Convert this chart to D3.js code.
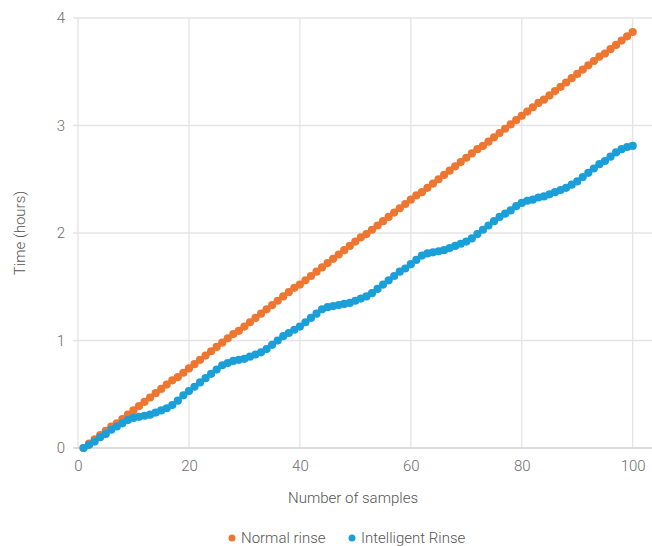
<!DOCTYPE html>
<html><head><meta charset="utf-8">
<script src="https://cdn.jsdelivr.net/npm/d3@7"></script>
<style>body{margin:0;background:#fff;}svg{display:block;font-family:Roboto,"Noto Sans",sans-serif;font-weight:300;}</style>
</head><body>
<svg id="c" width="652" height="546"></svg>
<script>
const seriesNames = ["Normal rinse", "Intelligent Rinse"];
const normalRinse = [0,0.04,0.08,0.12,0.16,0.20,0.23,0.27,0.31,0.35,0.39,0.43,0.47,0.51,0.55,0.59,0.63,0.66,0.70,0.74,0.78,0.82,0.86,0.90,0.94,0.98,1.02,1.06,1.09,1.13,1.17,1.21,1.25,1.29,1.33,1.37,1.41,1.45,1.49,1.52,1.56,1.60,1.64,1.68,1.72,1.76,1.80,1.84,1.88,1.92,1.96,1.99,2.03,2.07,2.11,2.15,2.19,2.23,2.27,2.31,2.35,2.38,2.42,2.46,2.50,2.54,2.58,2.62,2.66,2.70,2.74,2.78,2.81,2.85,2.89,2.93,2.97,3.01,3.05,3.09,3.13,3.17,3.21,3.24,3.28,3.32,3.36,3.40,3.44,3.48,3.52,3.56,3.60,3.64,3.67,3.71,3.75,3.79,3.83,3.87];
const intelligentRinse = [0,0.03,0.06,0.10,0.13,0.17,0.20,0.23,0.26,0.28,0.29,0.30,0.31,0.33,0.35,0.37,0.40,0.44,0.49,0.53,0.57,0.61,0.65,0.69,0.73,0.77,0.79,0.81,0.82,0.83,0.85,0.87,0.89,0.92,0.96,1.00,1.04,1.07,1.10,1.13,1.17,1.21,1.25,1.29,1.31,1.32,1.33,1.34,1.35,1.37,1.39,1.41,1.44,1.48,1.52,1.56,1.60,1.64,1.67,1.71,1.75,1.79,1.81,1.82,1.83,1.84,1.86,1.88,1.90,1.92,1.95,1.99,2.03,2.07,2.11,2.15,2.18,2.21,2.25,2.28,2.30,2.31,2.33,2.34,2.36,2.38,2.40,2.42,2.45,2.48,2.52,2.56,2.60,2.64,2.67,2.71,2.75,2.78,2.80,2.81];
const xTicks = [0,20,40,60,80,100];
const yTicks = [0,1,2,3,4];
const colors = ["#ED7631", "#1A9FD8"];

const svg = d3.select("#c");
const x = d3.scaleLinear().domain([0,100]).range([78,632.7]);
const y = d3.scaleLinear().domain([0,4]).range([448,18]);
const plotRight = 652;

// gridlines
svg.append("g").selectAll("line").data(xTicks).join("line")
  .attr("x1",d=>x(d)).attr("x2",d=>x(d)).attr("y1",y(4)).attr("y2",y(0))
  .attr("stroke","#e4e4e4").attr("stroke-width",1.3);
svg.append("g").selectAll("line").data(yTicks.filter(d=>d>0)).join("line")
  .attr("x1",73).attr("x2",plotRight).attr("y1",d=>y(d)).attr("y2",d=>y(d))
  .attr("stroke","#e4e4e4").attr("stroke-width",1.3);
svg.append("line").attr("x1",73).attr("x2",plotRight).attr("y1",y(0)).attr("y2",y(0))
  .attr("stroke","#d0d0d0").attr("stroke-width",1.3);

// tick labels via axes
const yAxis = svg.append("g").attr("transform","translate(73,0)")
  .call(d3.axisLeft(y).tickValues(yTicks).tickSize(0).tickPadding(8).tickFormat(d3.format("d")));
yAxis.select(".domain").remove();
yAxis.selectAll("text").attr("fill","#6e6e6e").style("font-size","15px").style("font-family","Roboto").style("font-weight","300");
const xAxis = svg.append("g").attr("transform",`translate(0,${y(0)})`)
  .call(d3.axisBottom(x).tickValues(xTicks).tickSize(0).tickPadding(12).tickFormat(d3.format("d")));
xAxis.select(".domain").remove();
xAxis.selectAll("text").attr("fill","#6e6e6e").style("font-size","15px").style("font-family","Roboto").style("font-weight","300");

// axis titles
svg.append("text").attr("x",353).attr("y",503).attr("text-anchor","middle")
  .attr("fill","#555").style("font-size","15px").text("Number of samples");
svg.append("text").attr("transform","translate(25,233) rotate(-90)").attr("text-anchor","middle")
  .attr("fill","#555").style("font-size","15px").text("Time (hours)");

// points
[normalRinse, intelligentRinse].forEach((vals,i)=>{
  svg.append("g").selectAll("circle").data(vals).join("circle")
    .attr("cx",(d,j)=>x(j+1)).attr("cy",d=>y(d)).attr("r",4.1)
    .attr("fill",colors[i]);
});

// legend
const legendX = [232, 352];
seriesNames.forEach((n,i)=>{
  svg.append("circle").attr("cx",legendX[i]).attr("cy",538).attr("r",3.5).attr("fill",colors[i]);
  svg.append("text").attr("x",legendX[i]+9).attr("y",543).attr("fill","#555")
    .style("font-size","15px").text(n);
});
</script>
</body></html>
